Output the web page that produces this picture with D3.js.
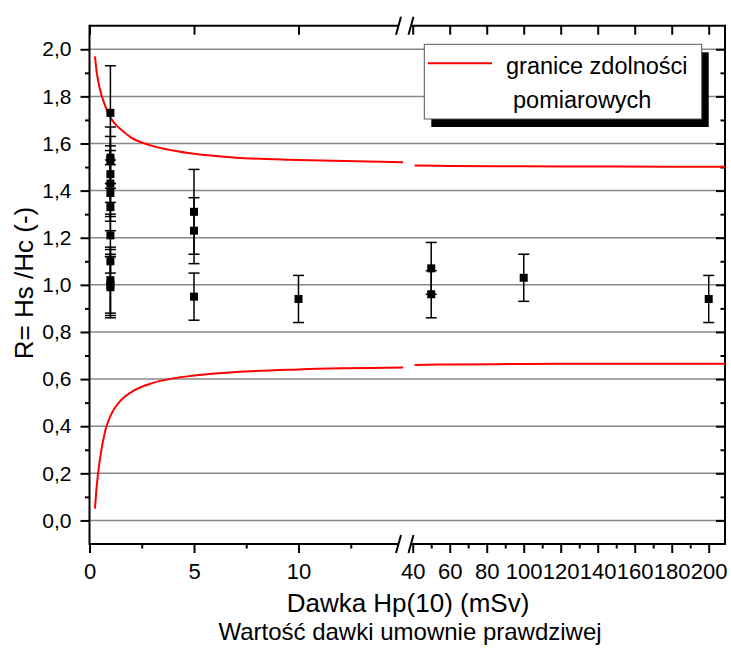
<!DOCTYPE html>
<html>
<head>
<meta charset="utf-8">
<script src="https://cdn.jsdelivr.net/npm/d3@7"></script>
<style>
  body { margin: 0; background: #fff; }
  svg { display: block; font-family: "Liberation Sans", Arial, sans-serif; }
</style>
</head>
<body>
<div id="chart"></div>
<script>
// measured points: dose Hp(10) (mSv), ratio R = Hs/Hc, error bar half-width
const doses  = [1, 1, 1, 1, 1, 1, 1, 1, 1, 1, 1, 1, 5, 5, 5, 10, 50, 50, 100, 200];
const ratios = [1.73, 1.54, 1.53, 1.47, 1.43, 1.39, 1.33, 1.21, 1.10, 1.02, 1.00, 0.99,
                1.31, 1.23, 0.95, 0.94, 1.07, 0.96, 1.03, 0.94];
const errors = [0.20, 0.13, 0.10, 0.12, 0.14, 0.12, 0.10, 0.09, 0.05, 0.14, 0.13, 0.13,
                0.18, 0.14, 0.10, 0.10, 0.11, 0.10, 0.10, 0.10];

const limitDose  = [0.26, 0.35, 0.5, 0.75, 1, 1.5, 2, 3, 4, 5, 7, 10, 15, 41, 60, 100, 150, 209];
const upperLimit = [1.97, 1.90, 1.83, 1.76, 1.71, 1.66, 1.625, 1.59, 1.57, 1.556, 1.54, 1.53, 1.52,
                    1.507, 1.505, 1.503, 1.502, 1.501];
const lowerLimit = [0.05, 0.15, 0.26, 0.38, 0.444, 0.51, 0.545, 0.583, 0.603, 0.615, 0.63, 0.641, 0.649,
                    0.66, 0.662, 0.664, 0.665, 0.665];

// axis ticks
const yMajor = [0, 0.2, 0.4, 0.6, 0.8, 1.0, 1.2, 1.4, 1.6, 1.8, 2.0];
const yMinor = [0.1, 0.3, 0.5, 0.7, 0.9, 1.1, 1.3, 1.5, 1.7, 1.9];
const xLeftMajor  = [0, 5, 10];
const xLeftMinor  = [2.5, 7.5, 12.5];
const xRightMajor = [40, 60, 80, 100, 120, 140, 160, 180, 200];
const xRightMinor = [50, 70, 90, 110, 130, 150, 170, 190];

const legendLines = ['granice zdolności', 'pomiarowych'];

const W = 731, H = 649;
const plot = {top: 25.7, bottom: 544, left: 89.5, right: 725};
const breakA = 398.5, breakB = 411;   // break marks on the x axis
const leftMax = 15;

const svg = d3.select('#chart').append('svg')
  .attr('width', W).attr('height', H);

const y = d3.scaleLinear().domain([-0.1, 2.1]).range([plot.bottom, plot.top]);
const xLeft  = d3.scaleLinear().domain([0, leftMax]).range([plot.left, 403]);
const xRight = d3.scaleLinear().domain([38.8, 208.8]).range([410.5, plot.right]);
const xPos = v => v <= leftMax ? xLeft(v) : xRight(v);

const fmtY = d => d3.format('.1f')(d).replace('.', ',');

// grid
svg.append('g')
  .selectAll('line')
  .data(yMajor)
  .enter().append('line')
  .attr('x1', plot.left).attr('x2', plot.right)
  .attr('y1', d => y(d)).attr('y2', d => y(d))
  .attr('stroke', '#888').attr('stroke-width', 1.5);

// axes
function styleAxis(g, fontSize) {
  g.select('.domain').remove();
  g.selectAll('.tick line').attr('stroke', '#000').attr('stroke-width', 2);
  g.selectAll('.tick text').attr('fill', '#000')
    .style('font-size', fontSize + 'px')
    .style('font-family', '"Liberation Sans", Arial, sans-serif');
}

const axes = svg.append('g');

axes.append('g').attr('transform', `translate(${plot.left},0)`)
  .call(d3.axisLeft(y).tickValues(yMajor).tickSize(9).tickPadding(9).tickFormat(fmtY))
  .call(g => styleAxis(g, 21));
axes.append('g').attr('transform', `translate(${plot.left},0)`)
  .call(d3.axisLeft(y).tickValues(yMinor).tickSize(4.5).tickFormat(''))
  .call(g => styleAxis(g, 21));

axes.append('g').attr('transform', `translate(${plot.right},0)`)
  .call(d3.axisRight(y).tickValues(yMajor).tickSize(-9).tickFormat(''))
  .call(g => styleAxis(g, 21));
axes.append('g').attr('transform', `translate(${plot.right},0)`)
  .call(d3.axisRight(y).tickValues(yMinor).tickSize(-4.5).tickFormat(''))
  .call(g => styleAxis(g, 21));

[[xLeft, xLeftMajor, xLeftMinor], [xRight, xRightMajor, xRightMinor]].forEach(([sc, major, minor]) => {
  axes.append('g').attr('transform', `translate(0,${plot.bottom})`)
    .call(d3.axisBottom(sc).tickValues(major).tickSize(9).tickPadding(10).tickFormat(d3.format('d')))
    .call(g => styleAxis(g, 22));
  axes.append('g').attr('transform', `translate(0,${plot.bottom})`)
    .call(d3.axisBottom(sc).tickValues(minor).tickSize(4.5).tickFormat(''))
    .call(g => styleAxis(g, 22));
  axes.append('g').attr('transform', `translate(0,${plot.top})`)
    .call(d3.axisTop(sc).tickValues(major).tickSize(-9).tickFormat(''))
    .call(g => styleAxis(g, 22));
});

// frame with gap at the break
const frame = svg.append('g').attr('stroke', '#000').attr('stroke-width', 2).attr('fill', 'none');
frame.append('line').attr('x1', plot.left).attr('x2', plot.left).attr('y1', plot.top - 1).attr('y2', plot.bottom + 1);
frame.append('line').attr('x1', plot.right).attr('x2', plot.right).attr('y1', plot.top - 1).attr('y2', plot.bottom + 1);
[plot.top, plot.bottom].forEach(yy => {
  frame.append('line').attr('x1', plot.left).attr('x2', breakA).attr('y1', yy).attr('y2', yy);
  frame.append('line').attr('x1', breakB).attr('x2', plot.right).attr('y1', yy).attr('y2', yy);
  [breakA, breakB].forEach(bx => {
    frame.append('line')
      .attr('x1', bx + 2.5).attr('y1', yy - 9)
      .attr('x2', bx - 2.5).attr('y2', yy + 9);
  });
});

// limit curves
const limitLine = d3.line()
  .x(d => xPos(d[0]))
  .y(d => y(d[1]))
  .curve(d3.curveMonotoneX);

[upperLimit, lowerLimit].forEach(series => {
  const pts = limitDose.map((d, i) => [d, series[i]]);
  const parts = [pts.filter(p => p[0] <= leftMax), pts.filter(p => p[0] > leftMax)];
  parts.forEach(part => {
    svg.append('path')
      .datum(part)
      .attr('d', limitLine)
      .attr('fill', 'none')
      .attr('stroke', '#ff0000')
      .attr('stroke-width', 2);
  });
});

// error bars
const points = doses.map((d, i) => ({x: d, r: ratios[i], e: errors[i]}));
const bars = svg.append('g').attr('stroke', '#000').attr('stroke-width', 1.5);
points.forEach(p => {
  const cx = xPos(p.x);
  bars.append('line').attr('x1', cx).attr('x2', cx)
    .attr('y1', y(p.r + p.e)).attr('y2', y(p.r - p.e));
  [p.r + p.e, p.r - p.e].forEach(v => {
    bars.append('line').attr('x1', cx - 5.5).attr('x2', cx + 5.5)
      .attr('y1', y(v)).attr('y2', y(v));
  });
});

// markers
svg.append('g')
  .selectAll('rect')
  .data(points)
  .enter().append('rect')
  .attr('x', d => xPos(d.x) - 4)
  .attr('y', d => y(d.r) - 4)
  .attr('width', 8).attr('height', 8)
  .attr('fill', '#000');

// legend
const legend = svg.append('g');
legend.append('rect')
  .attr('x', 431.3).attr('y', 52.3).attr('width', 277.4).attr('height', 74.7)
  .attr('fill', '#000');
legend.append('rect')
  .attr('x', 424.3).attr('y', 44.3).attr('width', 277.4).attr('height', 74.7)
  .attr('fill', '#fff').attr('stroke', '#555').attr('stroke-width', 1);
legend.append('line')
  .attr('x1', 428).attr('x2', 492).attr('y1', 63.3).attr('y2', 63.3)
  .attr('stroke', '#ff0000').attr('stroke-width', 2);
legend.append('text').attr('x', 506).attr('y', 74)
  .style('font-size', '23.5px').text(legendLines[0]);
legend.append('text').attr('x', 513).attr('y', 108)
  .style('font-size', '23.5px').text(legendLines[1]);

// titles
svg.append('text')
  .attr('transform', `translate(33,283) rotate(-90)`)
  .attr('text-anchor', 'middle')
  .style('font-size', '26px')
  .text('R= Hs /Hc (-)');
svg.append('text')
  .attr('x', 408).attr('y', 612)
  .attr('text-anchor', 'middle')
  .style('font-size', '26px')
  .text('Dawka Hp(10) (mSv)');
svg.append('text')
  .attr('x', 410).attr('y', 640)
  .attr('text-anchor', 'middle')
  .style('font-size', '24px')
  .text('Wartość dawki umownie prawdziwej');
</script>
</body>
</html>
